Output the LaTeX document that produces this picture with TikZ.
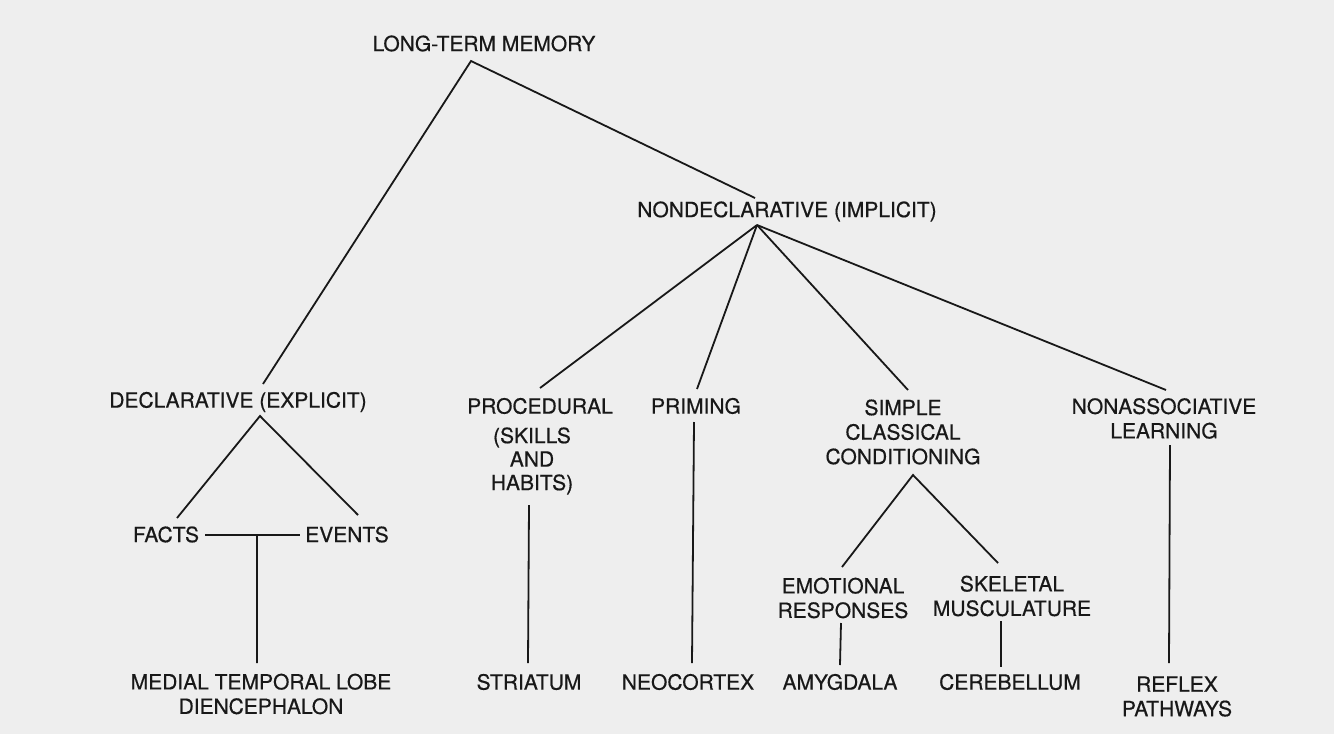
\documentclass[tikz,border=0pt]{standalone}
\usepackage{fontspec}
\setmainfont{TeX Gyre Heros}
\newfontface\labelface[FakeBold=0.5]{TeX Gyre Heros}
\usepackage{xcolor}
\usepackage{tikz}
\usetikzlibrary{positioning}
\definecolor{papergray}{RGB}{238, 238, 238}
\definecolor{inkblack}{RGB}{24, 24, 24}

\begin{document}
\begin{tikzpicture}[x=1pt, y=-1pt]
    \tikzstyle{lnode} = [inner sep=0pt, text=inkblack, align=center, font=\labelface\fontsize{21}{24.5}\selectfont]
    \tikzstyle{lline} = [draw=inkblack, line width=1.8pt]

    \fill[papergray] (0, 0) rectangle (1334, 734);

    % top levels
    \node[lnode] (ltm) at (484, 43.5) {LONG-TERM MEMORY};
    \node[lnode] (nondecl) at (787, 211.5) {NONDECLARATIVE (IMPLICIT)};
    \node[lnode] (decl) at (238, 402) {DECLARATIVE (EXPLICIT)};

    % memory types
    \node[lnode] (facts) at (166, 534.5) {FACTS};
    \node[lnode] (events) at (347, 534.5) {EVENTS};
    \node[lnode] (proc) at (540, 406) {PROCEDURAL};
    \node[lnode, font=\labelface\fontsize{21}{23.5}\selectfont] (habits) at (532, 461) {(SKILLS\\AND\\HABITS)};
    \node[lnode] (priming) at (696, 406) {PRIMING};
    \node[lnode] (simple) at (903, 432) {SIMPLE\\CLASSICAL\\CONDITIONING};
    \node[lnode] (nonassoc) at (1164, 418.5) {NONASSOCIATIVE\\LEARNING};
    \node[lnode] (emot) at (843, 598) {EMOTIONAL\\RESPONSES};
    \node[lnode] (skel) at (1012, 596) {SKELETAL\\MUSCULATURE};

    % brain structures
    \node[lnode] (mtl) at (261, 694) {MEDIAL TEMPORAL LOBE\\DIENCEPHALON};
    \node[lnode] (striatum) at (529, 682) {STRIATUM};
    \node[lnode] (neocortex) at (688, 682) {NEOCORTEX};
    \node[lnode] (amyg) at (840, 682) {AMYGDALA};
    \node[lnode] (cereb) at (1010, 682) {CEREBELLUM};
    \node[lnode] (reflex) at (1177, 696.5) {REFLEX\\PATHWAYS};

    % branches
    \draw[lline] ([shift={(25,-18)}]decl.center) -- ([shift={(-13,17.5)}]ltm.center) -- ([shift={(-32,-13.5)}]nondecl.center);
    \draw[lline] ([shift={(11,-16.5)}]facts.center) -- ([shift={(22,14)}]decl.center) -- ([shift={(11,-19.5)}]events.center);
    \draw[lline] ([shift={(39,0.5)}]facts.center) -- coordinate[pos=0.547] (factsev) ([shift={(-47,0.5)}]events.center);
    \draw[lline] (factsev) -- ([shift={(-4,-31)}]mtl.center);

    \draw[lline] ([shift={(-30,13.5)}]nondecl.center) -- ([shift={(0,-18)}]proc.center);
    \draw[lline] ([shift={(-30,13.5)}]nondecl.center) -- ([shift={(1,-17)}]priming.center);
    \draw[lline] ([shift={(-30,13.5)}]nondecl.center) -- ([shift={(5,-42)}]simple.center);
    \draw[lline] ([shift={(-30,13.5)}]nondecl.center) -- ([shift={(2,-28.5)}]nonassoc.center);

    \draw[lline] ([shift={(-3,44)}]habits.center) -- ([shift={(-1,-19)}]striatum.center);
    \draw[lline] ([shift={(-2,16)}]priming.center) -- ([shift={(4,-19)}]neocortex.center);
    \draw[lline] ([shift={(-1,-31)}]emot.center) -- ([shift={(10,43)}]simple.center) -- ([shift={(-14,-33)}]skel.center);
    \draw[lline] ([shift={(-2,25)}]emot.center) -- ([shift={(0,-17)}]amyg.center);
    \draw[lline] ([shift={(-11,25)}]skel.center) -- ([shift={(-9,-15)}]cereb.center);
    \draw[lline] ([shift={(6,26.5)}]nonassoc.center) -- ([shift={(-8,-33.5)}]reflex.center);
\end{tikzpicture}
\end{document}
